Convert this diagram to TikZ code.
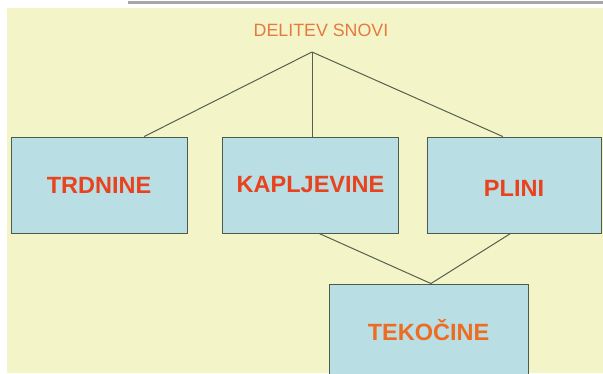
\documentclass[tikz,border=0pt]{standalone}
\usepackage{fontspec}
\setmainfont{Liberation Sans}
\definecolor{slidebg}{HTML}{F3F5C9}
\definecolor{boxfill}{HTML}{B9DEE3}
\definecolor{boxline}{HTML}{4E5A4E}
\definecolor{linkline}{HTML}{56604C}
\definecolor{labelred}{HTML}{E8421E}
\definecolor{labelorange}{HTML}{EE6C22}
\definecolor{titleorange}{HTML}{E47A3E}
\tikzstyle{phase}=[rectangle, inner sep=0, draw=boxline, line width=0.9pt, fill=boxfill, text=labelred, font=\fontsize{23.5}{28}\selectfont\bfseries]
\tikzstyle{link}=[draw=linkline, line width=1pt]

\begin{document}
\begin{tikzpicture}[x=1pt, y=-1pt]

\clip (0, 0) rectangle (603, 374);
\fill [white] (0, 0) rectangle (603, 374);
\fill [slidebg] (7, 8) rectangle (603, 373);
\draw [gray!70, line width=2.2pt] (128, 2.5) -- (603, 2.5);

\node [text=titleorange, font=\fontsize{17.8}{21}\selectfont] (title) at (321, 30) {DELITEV SNOVI};
\coordinate (top) at (312, 52);

\node [phase, minimum width=176, minimum height=96] (TRD) at (99, 185) {TRDNINE};
\node [phase, minimum width=176, minimum height=96] (KAP) at (310.5, 185) {KAPLJEVINE};
\node [phase, minimum width=174, minimum height=96, text height=23, text depth=0] (PLI) at (514, 185) {PLINI};
\node [phase, minimum width=199, minimum height=92, text=labelorange] (TEK) at (428.5, 330) {TEKOČINE};

\draw [link] (top) -- (TRD.47);
\draw [link] (top) -- (KAP.north -| top);
\draw [link] (top) -- (PLI.103);

\draw [link] (KAP.-80) -- (TEK.87);
\draw [link] (PLI.-94) -- (TEK.87);

\end{tikzpicture}
\end{document}
